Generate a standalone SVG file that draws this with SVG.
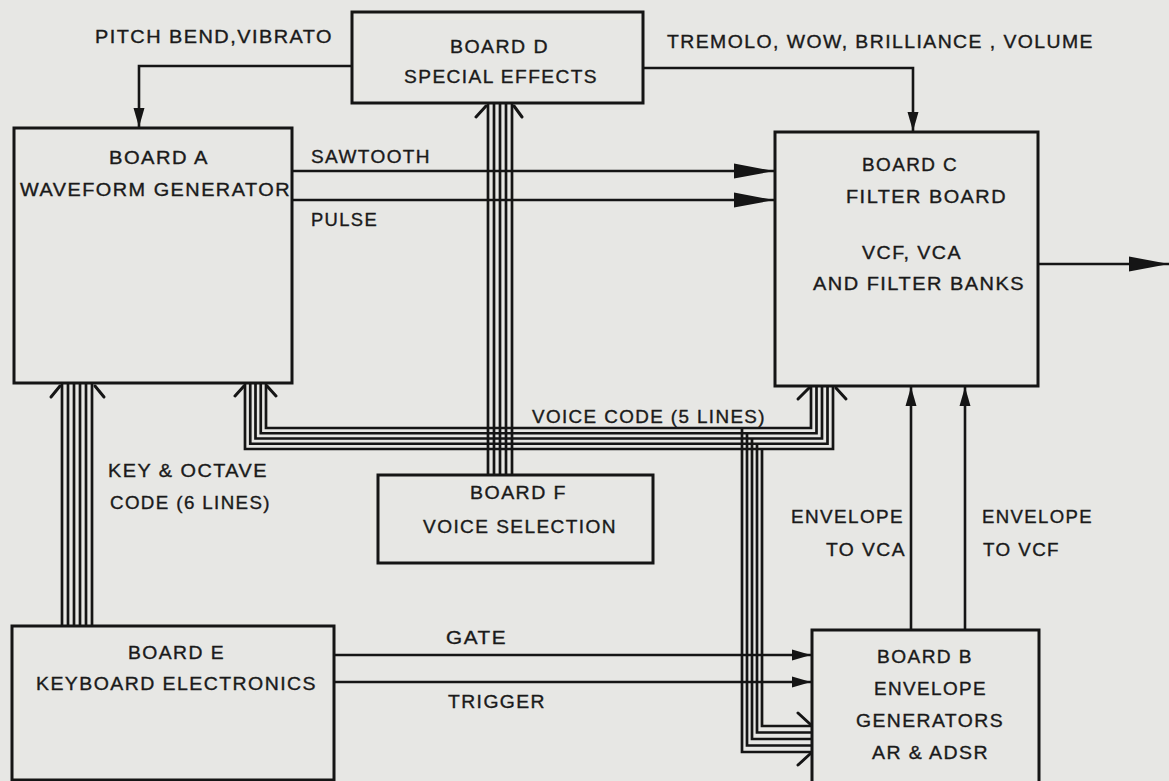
<svg xmlns="http://www.w3.org/2000/svg" width="1169" height="781" viewBox="0 0 1169 781">
<style>
.bg{fill:#e7e7e4}
.box{fill:none;stroke:#151515;stroke-width:3}
.ln{fill:none;stroke:#151515;stroke-width:2.6}
.bus{fill:none;stroke:#151515;stroke-width:2.7}
.chev{fill:none;stroke:#151515;stroke-width:3;stroke-linecap:round}
text{font-family:"Liberation Sans",Arial,sans-serif;font-size:17.5px;letter-spacing:1.3px;fill:#1a1a1a;stroke:#1a1a1a;stroke-width:0.35}
</style>
<defs>
<marker id="aL" markerWidth="40" markerHeight="18" refX="40" refY="9" orient="auto" markerUnits="userSpaceOnUse"><path d="M0,1.5 L40,9 L0,16.5 Z" fill="#151515"/></marker>
<marker id="aS" markerWidth="19" markerHeight="12" refX="19" refY="6" orient="auto" markerUnits="userSpaceOnUse"><path d="M0,0.5 L19,6 L0,11.5 Z" fill="#151515"/></marker>
</defs>
<rect class="bg" x="0" y="0" width="1169" height="781"/>

<g id="connectors">
<path class="ln" d="M352,66 H139 V127" marker-end="url(#aS)"/>
<path class="ln" d="M643,68 H913 V131" marker-end="url(#aS)"/>
<path class="ln" d="M292,171 H774" marker-end="url(#aL)"/>
<path class="ln" d="M292,200 H774" marker-end="url(#aL)"/>
<path class="ln" d="M1038,264 H1169" marker-end="url(#aL)"/>
<path class="ln" d="M334,655 H811" marker-end="url(#aS)"/>
<path class="ln" d="M334,682 H811" marker-end="url(#aS)"/>
<path class="ln" d="M911,630 V387" marker-end="url(#aS)"/>
<path class="ln" d="M965,630 V387" marker-end="url(#aS)"/>
<!-- key & octave 6 lines -->
<g class="bus">
<path d="M62,384 V626"/><path d="M68,384 V626"/><path d="M74,384 V626"/><path d="M80,384 V626"/><path d="M86,384 V626"/><path d="M92,384 V626"/>
</g>
<path class="chev" d="M51,397 L60,386 M104,397 L95,386"/>
<!-- voice code bus F -> D -->
<g class="bus">
<path d="M488,104 V475"/><path d="M494,104 V475"/><path d="M500,104 V475"/><path d="M506,104 V475"/><path d="M512,104 V475"/>
</g>
<path class="chev" d="M476,117 L486,106 M522,117 L514,106"/>
<!-- voice code bus A <-> C -->
<g class="bus">
<path d="M266,384 V428 H811 V387"/>
<path d="M260.75,384 V433.25 H816.5 V387"/>
<path d="M255.5,384 V438.5 H822 V387"/>
<path d="M250.25,384 V443.75 H827.5 V387"/>
<path d="M245,384 V449 H833 V387"/>
</g>
<path class="chev" d="M235,396 L244,386 M276,396 L267,386"/>
<path class="chev" d="M798,399 L809,388 M846,399 L836,388"/>
<!-- branch to B -->
<g class="bus">
<path d="M742,428 V752 H811"/>
<path d="M747,433.25 V745.5 H811"/>
<path d="M752,438.5 V739 H811"/>
<path d="M757,443.75 V732.5 H811"/>
<path d="M762,449 V726 H811"/>
</g>
<path class="chev" d="M798,713 L810,724 M798,765 L810,754"/>
</g>

<g id="board-d">
<rect class="box" x="352" y="12" width="291" height="91"/>
<text x="450" y="53" textLength="99" lengthAdjust="spacingAndGlyphs">BOARD D</text>
<text x="404" y="83" textLength="194" lengthAdjust="spacingAndGlyphs">SPECIAL EFFECTS</text>
</g>
<g id="board-a">
<rect class="box" x="14" y="128" width="278" height="255"/>
<text x="109" y="164" textLength="100" lengthAdjust="spacingAndGlyphs">BOARD A</text>
<text x="20" y="196" textLength="271" lengthAdjust="spacingAndGlyphs">WAVEFORM GENERATOR</text>
</g>
<g id="board-c">
<rect class="box" x="775" y="132" width="263" height="254"/>
<text x="862" y="171" textLength="96" lengthAdjust="spacingAndGlyphs">BOARD C</text>
<text x="846" y="203" textLength="161" lengthAdjust="spacingAndGlyphs">FILTER BOARD</text>
<text x="862" y="259" textLength="100" lengthAdjust="spacingAndGlyphs">VCF, VCA</text>
<text x="813" y="290" textLength="212" lengthAdjust="spacingAndGlyphs">AND FILTER BANKS</text>
</g>
<g id="board-f">
<rect class="box" x="378" y="475" width="275" height="88"/>
<text x="470" y="499" textLength="97" lengthAdjust="spacingAndGlyphs">BOARD F</text>
<text x="423" y="533" textLength="194" lengthAdjust="spacingAndGlyphs">VOICE SELECTION</text>
</g>
<g id="board-e">
<rect class="box" x="12" y="626" width="322" height="154"/>
<text x="128" y="659" textLength="97" lengthAdjust="spacingAndGlyphs">BOARD E</text>
<text x="36" y="690" textLength="281" lengthAdjust="spacingAndGlyphs">KEYBOARD ELECTRONICS</text>
</g>
<g id="board-b">
<rect class="box" x="812" y="630" width="227" height="160"/>
<text x="877" y="663" textLength="96" lengthAdjust="spacingAndGlyphs">BOARD B</text>
<text x="874" y="695" textLength="113" lengthAdjust="spacingAndGlyphs">ENVELOPE</text>
<text x="856" y="727" textLength="148" lengthAdjust="spacingAndGlyphs">GENERATORS</text>
<text x="872" y="759" textLength="117" lengthAdjust="spacingAndGlyphs">AR &amp; ADSR</text>
</g>

<g id="labels">
<text x="95" y="43" textLength="238" lengthAdjust="spacingAndGlyphs">PITCH BEND,VIBRATO</text>
<text x="667" y="48" textLength="427" lengthAdjust="spacingAndGlyphs">TREMOLO, WOW, BRILLIANCE , VOLUME</text>
<text x="311" y="163" textLength="120" lengthAdjust="spacingAndGlyphs">SAWTOOTH</text>
<text x="311" y="226" textLength="67" lengthAdjust="spacingAndGlyphs">PULSE</text>
<text x="532" y="423" textLength="234" lengthAdjust="spacingAndGlyphs">VOICE CODE (5 LINES)</text>
<text x="108" y="477" textLength="160" lengthAdjust="spacingAndGlyphs">KEY &amp; OCTAVE</text>
<text x="110" y="509" textLength="161" lengthAdjust="spacingAndGlyphs">CODE (6 LINES)</text>
<text x="791" y="523" textLength="113" lengthAdjust="spacingAndGlyphs">ENVELOPE</text>
<text x="826" y="556" textLength="80" lengthAdjust="spacingAndGlyphs">TO VCA</text>
<text x="982" y="523" textLength="111" lengthAdjust="spacingAndGlyphs">ENVELOPE</text>
<text x="983" y="556" textLength="77" lengthAdjust="spacingAndGlyphs">TO VCF</text>
<text x="446" y="644" textLength="61" lengthAdjust="spacingAndGlyphs">GATE</text>
<text x="448" y="708" textLength="98" lengthAdjust="spacingAndGlyphs">TRIGGER</text>
</g>
</svg>
